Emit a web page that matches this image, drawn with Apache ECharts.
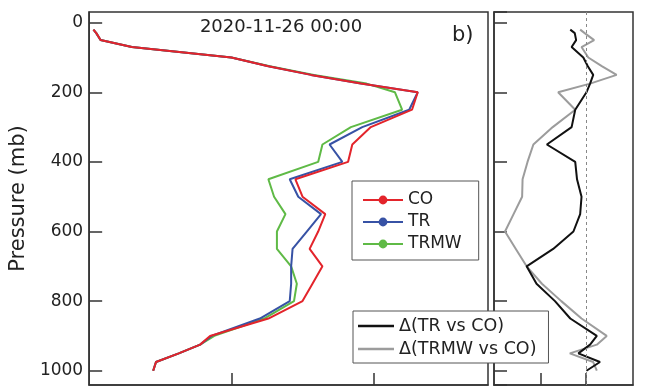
<!DOCTYPE html>
<html>
<head>
<meta charset="utf-8">
<script src="https://cdn.jsdelivr.net/npm/echarts@6/dist/echarts.min.js"></script>
<style>html,body{margin:0;padding:0;background:#fff;}#c{width:650px;height:387px;}</style>
</head>
<body>
<div id="c"></div>
<script>
// pressure levels (mb)
const levels = [20,30,50,70,100,125,150,175,200,250,300,350,400,450,500,550,600,650,700,750,800,850,900,925,950,975,1000];
// left panel profiles (arbitrary units)
const CO   = [0.03,0.05,0.08,0.30,1.00,1.26,1.56,1.91,2.31,2.27,1.98,1.85,1.82,1.45,1.50,1.66,1.61,1.55,1.64,1.57,1.50,1.26,0.85,0.78,0.63,0.47,0.45];
const TR   = [0.03,0.05,0.08,0.30,1.00,1.26,1.56,1.91,2.31,2.25,1.92,1.69,1.78,1.41,1.47,1.63,1.53,1.43,1.42,1.42,1.41,1.20,0.86,0.78,0.63,0.47,0.45];
const TRMW = [0.03,0.05,0.08,0.30,1.00,1.27,1.58,1.95,2.15,2.20,1.84,1.64,1.61,1.26,1.30,1.38,1.32,1.32,1.42,1.46,1.44,1.23,0.88,0.78,0.63,0.47,0.45];
// right panel differences
const dTR   = [-0.35,-0.25,-0.22,-0.32,-0.06,0.04,0.16,0.09,0.01,-0.24,-0.32,-0.87,-0.24,-0.20,-0.10,-0.13,-0.28,-0.73,-1.32,-1.10,-0.69,-0.35,0.24,0.09,-0.17,0.31,0.01];
const dTRMW = [-0.13,-0.03,0.18,-0.10,0.05,0.35,0.68,0.09,-0.62,-0.24,-0.74,-1.17,-1.30,-1.41,-1.42,-1.61,-1.80,-1.56,-1.32,-0.98,-0.55,-0.10,0.46,0.24,-0.36,0.16,0.24];
const yTickStep = 200;
const xTicksLeft = [1,2];
const xTicksRight = [-1,0];

const FONT = 'DejaVu Sans';
const pair = (xs) => xs.map((v,i)=>[v, levels[i]]);

const chart = echarts.init(document.getElementById('c'), null, {renderer:'canvas'});
const axisCol = '#333';
const tickStyle = {color:axisCol, width:1.5};
const yAxisBase = (gi) => ({
  type:'value', gridIndex:gi, position:'left', min:-30.7, max:1041, inverse:true,
  axisLine:{show:true, onZero:false, lineStyle:tickStyle}, splitLine:{show:false},
  axisTick:{show:true, inside:true, length:13, lineStyle:tickStyle},
  axisLabel:{show:false}
});
const yLeft = yAxisBase(0);
yLeft.name = 'Pressure (mb)';
yLeft.nameLocation = 'middle';
yLeft.nameGap = 50;
yLeft.nameTextStyle = {fontSize:21, color:'#222', fontFamily:FONT};
yLeft.axisLabel = {show:true, margin:6, fontSize:17, color:'#222', fontFamily:FONT,
                   showMinLabel:false, showMaxLabel:false,
                   formatter:(v)=> (Math.abs(v % yTickStep) < 1e-6 ? String(v) : '')};

chart.setOption({
  animation:false,
  backgroundColor:'#fff',
  textStyle:{fontFamily:FONT},
  title:[
    {text:'2020-11-26 00:00', left:281, top:18, textAlign:'center', padding:0,
     textStyle:{fontSize:18, fontWeight:'normal', color:'#222', fontFamily:FONT}},
    {text:'b)', left:452, top:25, padding:0,
     textStyle:{fontSize:21, fontWeight:'normal', color:'#222', fontFamily:FONT}}
  ],
  grid:[
    {left:87, top:12, width:401, height:373, show:true, borderColor:axisCol, borderWidth:1.5, backgroundColor:'transparent'},
    {left:494, top:12, width:139, height:373, show:true, borderColor:axisCol, borderWidth:1.5, backgroundColor:'transparent'}
  ],
  xAxis:[
    {type:'value', gridIndex:0, position:'bottom', min:0, max:2.804,
     axisLine:{show:true, onZero:false, lineStyle:tickStyle}, splitLine:{show:false},
     axisTick:{show:true, inside:true, length:12, lineStyle:tickStyle, customValues:xTicksLeft},
     axisLabel:{show:false}},
    {type:'value', gridIndex:1, position:'bottom', min:-2.045, max:1.044,
     axisLine:{show:true, onZero:false, lineStyle:tickStyle}, splitLine:{show:false},
     axisTick:{show:true, inside:true, length:12, lineStyle:tickStyle, customValues:xTicksRight},
     axisLabel:{show:false}}
  ],
  yAxis:[yLeft, yAxisBase(1)],
  legend:[
    {left:352, top:181, orient:'vertical', padding:[9,17,6,10], itemGap:2, itemWidth:40, itemHeight:11,
     backgroundColor:'#fff', borderColor:'#555', borderWidth:1, borderRadius:0,
     textStyle:{fontSize:17, color:'#222', lineHeight:20, fontFamily:FONT},
     data:['CO','TR','TRMW']},
    {left:353, top:311, orient:'vertical', padding:[5,12,4,5], itemGap:3, itemWidth:36, itemHeight:2.5,
     backgroundColor:'#fff', borderColor:'#555', borderWidth:1, borderRadius:0,
     textStyle:{fontSize:17.5, color:'#222', lineHeight:20, fontFamily:FONT},
     data:[{name:'Δ(TR vs CO)', icon:'rect'},{name:'Δ(TRMW vs CO)', icon:'rect'}]}
  ],
  series:[
    {name:'TRMW', type:'line', xAxisIndex:0, yAxisIndex:0, data:pair(TRMW), symbol:'circle', showSymbol:false,
     lineStyle:{color:'#5fba46', width:2}, itemStyle:{color:'#5fba46'}, z:2},
    {name:'TR', type:'line', xAxisIndex:0, yAxisIndex:0, data:pair(TR), symbol:'circle', showSymbol:false,
     lineStyle:{color:'#3752a5', width:2}, itemStyle:{color:'#3752a5'}, z:3},
    {name:'CO', type:'line', xAxisIndex:0, yAxisIndex:0, data:pair(CO), symbol:'circle', showSymbol:false,
     lineStyle:{color:'#e3242b', width:2}, itemStyle:{color:'#e3242b'}, z:4},
    {name:'Δ(TRMW vs CO)', type:'line', xAxisIndex:1, yAxisIndex:1, data:pair(dTRMW), symbol:'none',
     lineStyle:{color:'#9c9c9c', width:2}, itemStyle:{color:'#9c9c9c'}, z:2,
     markLine:{silent:true, symbol:'none', label:{show:false},
       lineStyle:{color:'#888', width:1, type:[3,3]}, data:[{xAxis:0}]}},
    {name:'Δ(TR vs CO)', type:'line', xAxisIndex:1, yAxisIndex:1, data:pair(dTR), symbol:'none',
     lineStyle:{color:'#111', width:2}, itemStyle:{color:'#111'}, z:3}
  ]
});
</script>
</body>
</html>
